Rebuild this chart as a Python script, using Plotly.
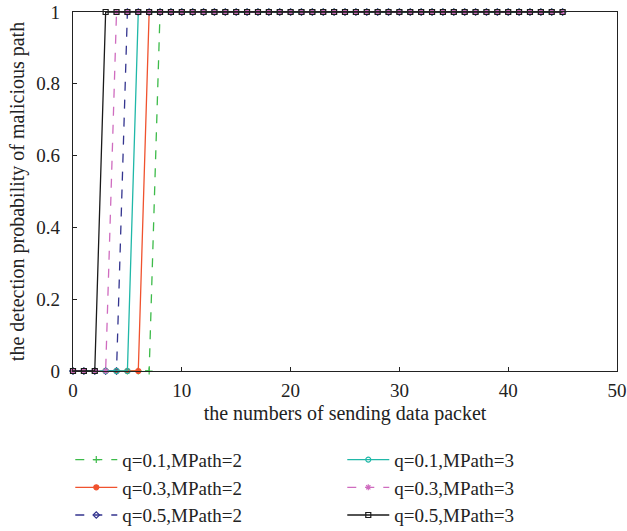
import plotly.graph_objects as go

# number of data packets sent
packets = list(range(0, 46))

# detection probability per scenario
q01_mp2 = [0, 0, 0, 0, 0, 0, 0, 0, 1, 1,
           1, 1, 1, 1, 1, 1, 1, 1, 1, 1,
           1, 1, 1, 1, 1, 1, 1, 1, 1, 1,
           1, 1, 1, 1, 1, 1, 1, 1, 1, 1,
           1, 1, 1, 1, 1, 1]
q03_mp2 = [0, 0, 0, 0, 0, 0, 0, 1, 1, 1,
           1, 1, 1, 1, 1, 1, 1, 1, 1, 1,
           1, 1, 1, 1, 1, 1, 1, 1, 1, 1,
           1, 1, 1, 1, 1, 1, 1, 1, 1, 1,
           1, 1, 1, 1, 1, 1]
q05_mp2 = [0, 0, 0, 0, 0, 1, 1, 1, 1, 1,
           1, 1, 1, 1, 1, 1, 1, 1, 1, 1,
           1, 1, 1, 1, 1, 1, 1, 1, 1, 1,
           1, 1, 1, 1, 1, 1, 1, 1, 1, 1,
           1, 1, 1, 1, 1, 1]
q01_mp3 = [0, 0, 0, 0, 0, 0, 1, 1, 1, 1,
           1, 1, 1, 1, 1, 1, 1, 1, 1, 1,
           1, 1, 1, 1, 1, 1, 1, 1, 1, 1,
           1, 1, 1, 1, 1, 1, 1, 1, 1, 1,
           1, 1, 1, 1, 1, 1]
q03_mp3 = [0, 0, 0, 0, 1, 1, 1, 1, 1, 1,
           1, 1, 1, 1, 1, 1, 1, 1, 1, 1,
           1, 1, 1, 1, 1, 1, 1, 1, 1, 1,
           1, 1, 1, 1, 1, 1, 1, 1, 1, 1,
           1, 1, 1, 1, 1, 1]
q05_mp3 = [0, 0, 0, 1, 1, 1, 1, 1, 1, 1,
           1, 1, 1, 1, 1, 1, 1, 1, 1, 1,
           1, 1, 1, 1, 1, 1, 1, 1, 1, 1,
           1, 1, 1, 1, 1, 1, 1, 1, 1, 1,
           1, 1, 1, 1, 1, 1]

x_ticks = [0, 10, 20, 30, 40, 50]
y_ticks = [0, 0.2, 0.4, 0.6, 0.8, 1]
y_tick_text = ["0", "0.2", "0.4", "0.6", "0.8", "1"]

FONT = "Liberation Serif"

series = [
    # name, values, color, dash, symbol, legend
    ("q=0.1,MPath=2", q01_mp2, "#3dbb4a", "dash", "cross-thin-open", "legend"),
    ("q=0.3,MPath=2", q03_mp2, "#f0522e", "solid", "circle", "legend"),
    ("q=0.5,MPath=2", q05_mp2, "#34358f", "dash", "diamond-open", "legend"),
    ("q=0.1,MPath=3", q01_mp3, "#20b8a8", "solid", "circle-open", "legend2"),
    ("q=0.3,MPath=3", q03_mp3, "#cf6cbf", "dash", "asterisk-open", "legend2"),
    ("q=0.5,MPath=3", q05_mp3, "#1a1a1a", "solid", "square-open", "legend2"),
]

fig = go.Figure()
for name, vals, color, dash, symbol, leg in series:
    fig.add_trace(go.Scatter(
        x=packets, y=vals, name=name, mode="lines+markers",
        line=dict(color=color, width=1.3, dash=dash),
        marker=dict(symbol=symbol, size=5, color=color,
                    line=dict(color=color, width=1.2)),
        legend=leg, cliponaxis=False,
    ))

axis_common = dict(
    showline=True, linecolor="#222", linewidth=1.3, mirror=True,
    showgrid=False, zeroline=False, ticks="inside", ticklen=4,
    tickcolor="#222", tickfont=dict(family=FONT, size=19, color="#222"),
    automargin=False,
)

legend_common = dict(
    yref="container", y=0.17, xanchor="left", yanchor="top",
    font=dict(family=FONT, size=19, color="#222"),
    bgcolor="rgba(0,0,0,0)", tracegroupgap=0, itemwidth=42,
)

fig.update_layout(
    width=627, height=531,
    margin=dict(l=73, r=10, t=12, b=160),
    paper_bgcolor="white", plot_bgcolor="white",
    font=dict(family=FONT, size=20, color="#222"),
    xaxis=dict(range=[0, 50], tickvals=x_ticks, ticklabelstandoff=2,
               title=dict(text="the numbers of sending data packet",
                          font=dict(family=FONT, size=20), standoff=6),
               **axis_common),
    yaxis=dict(range=[0, 1], tickvals=y_ticks, ticktext=y_tick_text,
               ticklabelstandoff=8,
               title=dict(text="the detection probability of malicious path",
                          font=dict(family=FONT, size=20), standoff=6),
               **axis_common),
    legend=dict(x=-0.005, **legend_common),
    legend2=dict(x=0.495, **legend_common),
)

fig.write_html("out.html")
